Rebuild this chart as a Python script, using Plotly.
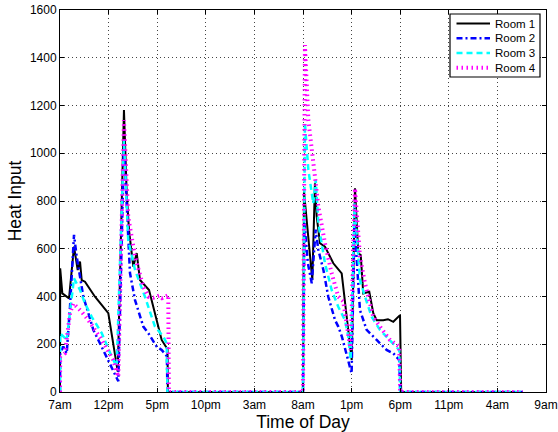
import plotly.graph_objects as go

# Hours after 7am on the first day
tick_hours = [0, 5, 10, 15, 20, 25, 30, 35, 40, 45, 50]
tick_labels = ["7am", "12pm", "5pm", "10pm", "3am", "8am", "1pm", "6pm", "11pm", "4am", "9am"]

room1_t = [0, 0.02, 0.24, 0.51, 0.93, 1.44, 1.82, 2.06, 2.23, 2.57, 3.6, 4.97, 5.94,
           6.58, 6.86, 7.1, 7.54, 7.89, 8.23, 9.16, 10.46, 10.98, 11.06, 11.1,
           25.0, 25.1, 25.72, 25.96, 26.23, 26.41, 26.75, 27.26, 28.12, 28.98, 30.01,
           30.35, 30.69, 30.94, 31.2, 31.82, 32.23, 32.58, 33.26, 33.74, 34.29, 34.98,
           35.1, 47.6]
room1_v = [0, 518, 413, 406, 392, 609, 511, 546, 469, 462, 399, 330, 85,
           1181, 833, 678, 525, 582, 469, 427, 218, 184, 184, 0,
           0, 840, 553, 469, 874, 734, 623, 609, 539, 497, 134,
           853, 581, 574, 413, 420, 330, 301, 301, 305, 294, 322,
           0, 0]

room2_t = [0, 0.02, 0.34, 0.69, 1.03, 1.2, 1.44, 1.72, 2.4, 2.92, 3.43, 3.94, 4.97,
           5.83, 6.0, 6.58, 7.2, 7.72, 8.57, 9.09, 9.95, 10.46, 11.0, 11.05,
           25.0, 25.15, 25.5, 25.9, 26.3, 26.58, 27.1, 27.6, 28.3, 28.63, 29.0, 30.0,
           30.3, 30.86, 31.55, 32.58, 33.6, 34.3, 34.9, 35.0, 47.6]
room2_v = [0, 162, 190, 162, 357, 483, 658, 567, 399, 330, 260, 218, 134,
           64, 45, 1027, 498, 385, 274, 246, 190, 176, 150, 0,
           0, 707, 540, 455, 680, 595, 511, 399, 301, 274, 232, 78,
           700, 343, 260, 218, 176, 162, 134, 0, 0]

room3_t = [0, 0.02, 0.69, 1.2, 1.44, 2.06, 2.57, 3.26, 4.29, 5.32, 5.83,
           6.58, 7.02, 7.72, 8.74, 9.77, 10.63, 10.98, 11.05,
           25.0, 25.2, 25.55, 26.06, 26.31, 26.58, 27.26, 27.95, 28.63, 29.32, 29.66, 29.9,
           30.3, 30.86, 31.38, 32.06, 32.92, 33.95, 34.9, 35.0, 47.6]
room3_v = [0, 246, 218, 399, 476, 427, 371, 315, 247, 148, 106,
           1055, 637, 511, 399, 274, 232, 204, 0,
           0, 1125, 930, 790, 888, 706, 539, 427, 357, 301, 232, 134,
           790, 469, 399, 315, 260, 218, 176, 0, 0]

room4_t = [0, 0.02, 0.51, 1.03, 1.37, 2.23, 2.92, 4.29, 5.48, 6.0,
           6.58, 7.02, 7.72, 8.57, 9.09, 9.6, 10.2, 10.5, 11.14, 11.2,
           25.0, 25.2, 25.55, 25.9, 26.23, 26.58, 27.26, 27.95, 28.63, 29.14, 29.9,
           30.35, 30.86, 31.38, 32.23, 32.92, 33.95, 34.9, 35.0, 47.6]
room4_v = [0, 148, 162, 330, 371, 336, 301, 218, 134, 64,
           1139, 734, 567, 441, 399, 395, 404, 393, 406, 0,
           0, 1453, 1139, 1000, 902, 776, 623, 497, 399, 380, 176,
           853, 567, 455, 315, 274, 218, 190, 0, 0]

room_names = ["Room 1", "Room 2", "Room 3", "Room 4"]
room_styles = [
    dict(color="black", width=2),
    dict(color="#0000ff", width=2.5, dash="6px,3px,2px,3px"),
    dict(color="#00ffff", width=2.5, dash="6px,4px"),
    dict(color="#ff00ff", width=4, dash="1.5px,3.5px"),
]
series = [(room1_t, room1_v), (room2_t, room2_v), (room3_t, room3_v), (room4_t, room4_v)]

W, H = 558, 432
ML, MR, MT, MB = 60, 12, 10, 40
PW, PH = W - ML - MR, H - MT - MB

fig = go.Figure()
for (t, v), name, style in zip(series, room_names, room_styles):
    fig.add_trace(go.Scatter(x=t, y=v, mode="lines", name=name, line=style,
                             showlegend=False))

FONT = "Liberation Sans, Arial, Helvetica, sans-serif"

axis_common = dict(
    showline=True, mirror="ticks", linecolor="black", linewidth=1,
    ticks="inside", ticklen=4, tickcolor="black",
    showgrid=True, gridcolor="#444444", gridwidth=1, griddash="1px,3px",
    zeroline=False, automargin=False,
    tickfont=dict(family=FONT, size=12, color="black"),
)


def px_x(p):
    return (p - ML) / PW


def px_y(p):
    return (H - MB - p) / PH


# Legend box in the upper right corner
shapes = [dict(type="rect", xref="paper", yref="paper",
               x0=px_x(450), x1=px_x(540), y0=px_y(77), y1=px_y(14),
               line=dict(color="black", width=1.2), fillcolor="white", layer="above")]
annotations = []
row_y = [23.5, 38.2, 53.0, 67.7]
for name, style, ry in zip(room_names, room_styles, row_y):
    shapes.append(dict(type="line", xref="paper", yref="paper",
                       x0=px_x(456.5), x1=px_x(490), y0=px_y(ry), y1=px_y(ry),
                       line=style, layer="above"))
    annotations.append(dict(xref="paper", yref="paper", x=px_x(493), y=px_y(ry),
                            xanchor="left", yanchor="middle", text=name, showarrow=False,
                            font=dict(family=FONT, size=11.5, color="black")))

fig.update_layout(
    width=W, height=H,
    margin=dict(l=ML, r=MR, t=MT, b=MB),
    paper_bgcolor="white", plot_bgcolor="white",
    font=dict(family=FONT, color="black"),
    xaxis=dict(range=[0, 50], tickvals=tick_hours, ticktext=tick_labels,
               ticklabelstandoff=2,
               title=dict(text="Time of Day", font=dict(size=17.5), standoff=2),
               **axis_common),
    yaxis=dict(range=[0, 1600], dtick=200,
               title=dict(text="Heat Input", font=dict(size=17.5), standoff=3),
               **axis_common),
    shapes=shapes,
    annotations=annotations,
    showlegend=False,
)

fig.write_html("out.html")
